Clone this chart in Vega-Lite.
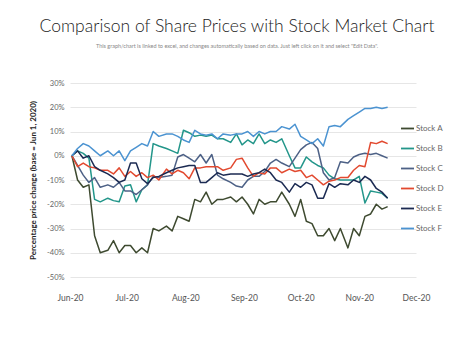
{
  "$schema": "https://vega.github.io/schema/vega-lite/v6.json",
  "width": 320,
  "height": 194,
  "autosize": {"type": "none"},
  "padding": {"left": 70, "top": 83, "right": 84, "bottom": 78},
  "background": "white",
  "title": {
    "text": "Comparison of Share Prices with Stock Market Chart",
    "subtitle": "This graph/chart is linked to excel, and changes automatically  based on data. Just left click on it and select \"Edit Data\".",
    "anchor": "middle",
    "frame": "group",
    "dx": 7,
    "offset": 30,
    "font": "Lato",
    "fontSize": 17.5,
    "fontWeight": 300,
    "color": "#222222",
    "subtitleFont": "Lato",
    "subtitleFontSize": 5.5,
    "subtitleColor": "#888888",
    "subtitlePadding": 8
  },
  "config": {
    "view": {"stroke": null},
    "font": "Lato"
  },
  "data": {
    "values": [
      {"d": "2020-06-02", "Stock A": 0, "Stock B": 0, "Stock C": 0, "Stock D": 0, "Stock E": 0, "Stock F": 0},
      {"d": "2020-06-05", "Stock A": -10, "Stock B": 2, "Stock C": -4, "Stock D": -4.5, "Stock E": 2, "Stock F": 3},
      {"d": "2020-06-08", "Stock A": -13, "Stock B": 1, "Stock C": -8, "Stock D": -3, "Stock E": -1, "Stock F": 5},
      {"d": "2020-06-11", "Stock A": -12, "Stock B": -1, "Stock C": -11, "Stock D": -4.5, "Stock E": 0, "Stock F": 4},
      {"d": "2020-06-14", "Stock A": -33, "Stock B": -18, "Stock C": -9, "Stock D": -5, "Stock E": -4.5, "Stock F": 2},
      {"d": "2020-06-17", "Stock A": -40, "Stock B": -19, "Stock C": -13, "Stock D": -6, "Stock E": -6, "Stock F": 0},
      {"d": "2020-06-21", "Stock A": -39, "Stock B": -17.5, "Stock C": -12, "Stock D": -6, "Stock E": -7.5, "Stock F": 2},
      {"d": "2020-06-24", "Stock A": -35, "Stock B": -18.5, "Stock C": -13, "Stock D": -7.5, "Stock E": -9, "Stock F": 0},
      {"d": "2020-06-27", "Stock A": -40, "Stock B": -19, "Stock C": -11, "Stock D": -5, "Stock E": -11, "Stock F": 2},
      {"d": "2020-06-30", "Stock A": -37, "Stock B": -12.5, "Stock C": -14.5, "Stock D": -8.5, "Stock E": -10, "Stock F": -2},
      {"d": "2020-07-03", "Stock A": -37, "Stock B": -12, "Stock C": -14.5, "Stock D": -6.5, "Stock E": -3, "Stock F": 2},
      {"d": "2020-07-06", "Stock A": -40, "Stock B": -19, "Stock C": -16, "Stock D": -8.5, "Stock E": -3, "Stock F": 3.5},
      {"d": "2020-07-09", "Stock A": -38, "Stock B": -14, "Stock C": -14, "Stock D": -7, "Stock E": -9.5, "Stock F": 5},
      {"d": "2020-07-12", "Stock A": -40, "Stock B": -12, "Stock C": -12, "Stock D": -9, "Stock E": -11.5, "Stock F": 4},
      {"d": "2020-07-15", "Stock A": -30, "Stock B": 5, "Stock C": -8.5, "Stock D": -8, "Stock E": -9, "Stock F": 10},
      {"d": "2020-07-18", "Stock A": -31, "Stock B": 4, "Stock C": -9, "Stock D": -10, "Stock E": -8.5, "Stock F": 8},
      {"d": "2020-07-22", "Stock A": -29, "Stock B": 3, "Stock C": -8.5, "Stock D": -5.5, "Stock E": -7, "Stock F": 9},
      {"d": "2020-07-25", "Stock A": -31, "Stock B": 2, "Stock C": -8, "Stock D": -7.5, "Stock E": -6, "Stock F": 9},
      {"d": "2020-07-28", "Stock A": -25, "Stock B": 1, "Stock C": -0.5, "Stock D": -6, "Stock E": -5, "Stock F": 8},
      {"d": "2020-07-31", "Stock A": -26, "Stock B": 10.5, "Stock C": 0.5, "Stock D": -7, "Stock E": -4.5, "Stock F": 6.5},
      {"d": "2020-08-03", "Stock A": -27, "Stock B": 9.5, "Stock C": -1, "Stock D": -9.5, "Stock E": -4, "Stock F": 5.5},
      {"d": "2020-08-06", "Stock A": -18, "Stock B": 8, "Stock C": -2.5, "Stock D": -5, "Stock E": -4, "Stock F": 10.5},
      {"d": "2020-08-09", "Stock A": -19, "Stock B": 8.5, "Stock C": 0.5, "Stock D": -5, "Stock E": -11, "Stock F": 9},
      {"d": "2020-08-12", "Stock A": -15, "Stock B": 8, "Stock C": -3, "Stock D": -4.5, "Stock E": -11, "Stock F": 8.5},
      {"d": "2020-08-15", "Stock A": -20, "Stock B": 8.5, "Stock C": 0.5, "Stock D": -4.5, "Stock E": -9, "Stock F": 9},
      {"d": "2020-08-18", "Stock A": -18, "Stock B": 7, "Stock C": -8, "Stock D": -4.5, "Stock E": -7, "Stock F": 7},
      {"d": "2020-08-21", "Stock A": -18, "Stock B": 7, "Stock C": -9.5, "Stock D": -6, "Stock E": -8, "Stock F": 9},
      {"d": "2020-08-25", "Stock A": -17, "Stock B": 5.5, "Stock C": -11, "Stock D": -5, "Stock E": -7.5, "Stock F": 8.5},
      {"d": "2020-08-28", "Stock A": -19, "Stock B": 9, "Stock C": -12.5, "Stock D": -1.5, "Stock E": -7.5, "Stock F": 9},
      {"d": "2020-08-31", "Stock A": -17, "Stock B": 4.5, "Stock C": -13, "Stock D": -1, "Stock E": -7.5, "Stock F": 9},
      {"d": "2020-09-03", "Stock A": -20, "Stock B": 6.5, "Stock C": -10, "Stock D": -5, "Stock E": -8.5, "Stock F": 10},
      {"d": "2020-09-06", "Stock A": -24, "Stock B": 5, "Stock C": -8.5, "Stock D": -8.5, "Stock E": -7.5, "Stock F": 8},
      {"d": "2020-09-09", "Stock A": -18, "Stock B": 9, "Stock C": -8.5, "Stock D": -7, "Stock E": -7, "Stock F": 10},
      {"d": "2020-09-12", "Stock A": -20, "Stock B": 5, "Stock C": -6.5, "Stock D": -7.5, "Stock E": -5.5, "Stock F": 9},
      {"d": "2020-09-15", "Stock A": -19, "Stock B": 6.5, "Stock C": -3, "Stock D": -5, "Stock E": -7, "Stock F": 10},
      {"d": "2020-09-18", "Stock A": -19, "Stock B": 5.5, "Stock C": -1.5, "Stock D": -5, "Stock E": -10, "Stock F": 10},
      {"d": "2020-09-21", "Stock A": -15, "Stock B": 7, "Stock C": -3, "Stock D": -7, "Stock E": -11, "Stock F": 12},
      {"d": "2020-09-25", "Stock A": -20, "Stock B": 0, "Stock C": -4.5, "Stock D": -5.5, "Stock E": -15, "Stock F": 11},
      {"d": "2020-09-28", "Stock A": -25, "Stock B": -5, "Stock C": -1, "Stock D": -6.5, "Stock E": -11.5, "Stock F": 13},
      {"d": "2020-10-01", "Stock A": -18, "Stock B": -5, "Stock C": 2.5, "Stock D": -6, "Stock E": -13, "Stock F": 8},
      {"d": "2020-10-04", "Stock A": -27, "Stock B": -0.5, "Stock C": 4.5, "Stock D": -9, "Stock E": -11, "Stock F": 6.5},
      {"d": "2020-10-07", "Stock A": -28, "Stock B": -2.5, "Stock C": 5.5, "Stock D": -8, "Stock E": -12, "Stock F": 5},
      {"d": "2020-10-10", "Stock A": -33, "Stock B": -4, "Stock C": 3, "Stock D": -10, "Stock E": -17.5, "Stock F": 7},
      {"d": "2020-10-13", "Stock A": -33, "Stock B": -5, "Stock C": -7, "Stock D": -12, "Stock E": -17.5, "Stock F": 4},
      {"d": "2020-10-16", "Stock A": -30, "Stock B": -8, "Stock C": -10, "Stock D": -10.5, "Stock E": -11.5, "Stock F": 12},
      {"d": "2020-10-19", "Stock A": -35, "Stock B": -9.5, "Stock C": -9, "Stock D": -10, "Stock E": -13, "Stock F": 12.5},
      {"d": "2020-10-22", "Stock A": -30, "Stock B": -10, "Stock C": -2.5, "Stock D": -9, "Stock E": -11.5, "Stock F": 12},
      {"d": "2020-10-26", "Stock A": -38, "Stock B": -10, "Stock C": -3, "Stock D": -9, "Stock E": -12, "Stock F": 15},
      {"d": "2020-10-29", "Stock A": -30, "Stock B": -10, "Stock C": -0.5, "Stock D": -6, "Stock E": -10, "Stock F": 16.5},
      {"d": "2020-11-01", "Stock A": -33, "Stock B": -8.5, "Stock C": 0.5, "Stock D": -4, "Stock E": -11, "Stock F": 18},
      {"d": "2020-11-04", "Stock A": -25, "Stock B": -19.5, "Stock C": 1, "Stock D": -4.5, "Stock E": -8.5, "Stock F": 19.5},
      {"d": "2020-11-07", "Stock A": -24, "Stock B": -14.5, "Stock C": 0.5, "Stock D": 5.5, "Stock E": -10, "Stock F": 19.5},
      {"d": "2020-11-10", "Stock A": -20, "Stock B": -15, "Stock C": 1, "Stock D": 5, "Stock E": -13.5, "Stock F": 20},
      {"d": "2020-11-13", "Stock A": -22, "Stock B": -15.5, "Stock C": 0, "Stock D": 6, "Stock E": -15, "Stock F": 19.5},
      {"d": "2020-11-16", "Stock A": -21, "Stock B": -17.5, "Stock C": -1, "Stock D": 5, "Stock E": -17.5, "Stock F": 20}
    ]
  },
  "transform": [
    {"fold": ["Stock A", "Stock B", "Stock C", "Stock D", "Stock E", "Stock F"], "as": ["series", "value"]}
  ],
  "mark": {"type": "line", "strokeWidth": 1.5, "strokeJoin": "round"},
  "encoding": {
    "x": {
      "field": "d",
      "type": "temporal",
      "scale": {
        "type": "utc",
        "domain": [
          {"year": 2020, "month": 6, "date": 1, "utc": true},
          {"year": 2020, "month": 12, "date": 1, "utc": true}
        ],
        "range": [0, 346]
      },
      "axis": {
        "values": [
          {"year": 2020, "month": 6, "date": 1, "utc": true},
          {"year": 2020, "month": 7, "date": 1, "utc": true},
          {"year": 2020, "month": 8, "date": 1, "utc": true},
          {"year": 2020, "month": 9, "date": 1, "utc": true},
          {"year": 2020, "month": 10, "date": 1, "utc": true},
          {"year": 2020, "month": 11, "date": 1, "utc": true},
          {"year": 2020, "month": 12, "date": 1, "utc": true}
        ],
        "format": "%b-%y",
        "title": null,
        "grid": false,
        "domain": false,
        "ticks": false,
        "labelPadding": 16,
        "labelFontSize": 8.5,
        "labelColor": "#555555",
        "labelFlush": false,
        "labelOverlap": false
      }
    },
    "y": {
      "field": "value",
      "type": "quantitative",
      "scale": {"domain": [-50, 30]},
      "axis": {
        "values": [-50, -40, -30, -20, -10, 0, 10, 20, 30],
        "labelExpr": "datum.value + '%'",
        "grid": true,
        "gridColor": "#e6e6e6",
        "domain": false,
        "ticks": false,
        "labelPadding": 6,
        "labelFontSize": 7.5,
        "labelColor": "#666666",
        "title": "Percentage price change (base = Jun 1, 2020)",
        "titleFontSize": 8,
        "titleFontWeight": "bold",
        "titleColor": "#222222",
        "titlePadding": 9
      }
    },
    "color": {
      "field": "series",
      "type": "nominal",
      "scale": {
        "domain": ["Stock A", "Stock B", "Stock C", "Stock D", "Stock E", "Stock F"],
        "range": ["#3e4a30", "#23968a", "#4d6186", "#e2492f", "#1b2a52", "#4b93d1"]
      },
      "legend": {
        "title": null,
        "orient": "none",
        "legendX": 330,
        "legendY": 38,
        "symbolType": "stroke",
        "symbolSize": 169,
        "symbolStrokeWidth": 1.8,
        "labelFontSize": 8,
        "labelColor": "#666666",
        "rowPadding": 8,
        "labelOffset": 1,
        "padding": 0
      }
    }
  }
}
